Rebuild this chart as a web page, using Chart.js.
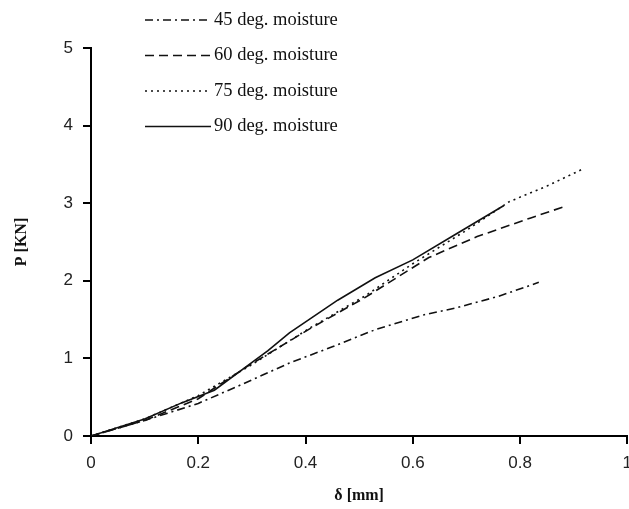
<!DOCTYPE html>
<html>
<head>
<meta charset="utf-8">
<script src="https://cdn.jsdelivr.net/npm/chart.js@4/dist/chart.umd.min.js"></script>
<style>
  html, body { margin: 0; padding: 0; background: #fff; overflow: hidden; }
  #wrap { position: relative; width: 641px; height: 509px; }
</style>
</head>
<body>
<div id="wrap"><canvas id="loadChart"></canvas></div>
<script>
// deflection [mm] and load [KN]
const labels = ['45 deg. moisture', '60 deg. moisture', '75 deg. moisture', '90 deg. moisture'];

const d45 = [0, 0.1, 0.2, 0.27, 0.37, 0.45, 0.53, 0.62, 0.68, 0.76, 0.835];
const p45 = [0, 0.2, 0.42, 0.63, 0.94, 1.15, 1.37, 1.56, 1.65, 1.8, 1.98];

const d60 = [0, 0.1, 0.2, 0.29, 0.41, 0.51, 0.63, 0.72, 0.82, 0.88];
const p60 = [0, 0.2, 0.48, 0.89, 1.39, 1.78, 2.3, 2.57, 2.81, 2.95];

const d75 = [0, 0.1, 0.2, 0.3, 0.41, 0.51, 0.6, 0.7, 0.78, 0.85, 0.92];
const p75 = [0, 0.22, 0.52, 0.92, 1.4, 1.8, 2.22, 2.65, 3.02, 3.22, 3.45];

const d90 = [0, 0.1, 0.17, 0.23, 0.33, 0.37, 0.46, 0.53, 0.6, 0.68, 0.77];
const p90 = [0, 0.22, 0.43, 0.59, 1.1, 1.33, 1.75, 2.04, 2.27, 2.6, 2.97];

const xTicks = [0, 0.2, 0.4, 0.6, 0.8, 1];
const yTicks = [0, 1, 2, 3, 4, 5];

const dashes = [[8, 4, 2, 4], [9, 5], [2, 4], []];

function toPoints(xs, ys) {
    return xs.map((x, i) => ({ x: x, y: ys[i] }));
}

const series = [[d45, p45], [d60, p60], [d75, p75], [d90, p90]];

// legend drawn by hand: stacked lines with labels, like the original
const sideLegend = {
    id: 'sideLegend',
    afterDatasetsDraw(chart) {
        const c = chart.ctx;
        c.save();
        chart.data.datasets.forEach((ds, i) => {
            const y = 20 + i * 35.5;
            c.beginPath();
            c.setLineDash(ds.borderDash);
            c.strokeStyle = '#111';
            c.lineWidth = 1.5;
            c.moveTo(145, y);
            c.lineTo(211, y);
            c.stroke();
            c.setLineDash([]);
            c.fillStyle = '#111';
            c.font = '18.5px "Liberation Serif", "Times New Roman", serif';
            c.textBaseline = 'middle';
            c.fillText(ds.label, 214, y);
        });
        c.restore();
    }
};

const ctx = document.getElementById('loadChart').getContext('2d');

const chart = new Chart(ctx, {
    type: 'scatter',
    data: {
        datasets: series.map((s, i) => ({
            label: labels[i],
            data: toPoints(s[0], s[1]),
            showLine: true,
            borderColor: '#111',
            borderWidth: 1.6,
            borderDash: dashes[i],
            pointRadius: 0,
            tension: 0,
            fill: false
        }))
    },
    options: {
        responsive: true,
        maintainAspectRatio: false,
        animation: false,
        layout: { padding: { top: 48, left: 0, right: 0, bottom: 0 } },
        plugins: {
            legend: { display: false },
            tooltip: { enabled: false }
        },
        scales: {
            x: {
                type: 'linear',
                min: 0,
                max: 1,
                afterBuildTicks: (s) => { s.ticks = xTicks.map(v => ({ value: v })); },
                ticks: {
                    color: '#222',
                    font: { family: 'Arial, "Liberation Sans", sans-serif', size: 17 },
                    padding: 9,
                    callback: (v) => String(v)
                },
                grid: { drawOnChartArea: false, drawTicks: true, tickLength: 8, color: '#000', lineWidth: 2 },
                border: { display: true, color: '#000', width: 2 },
                title: {
                    display: true,
                    text: 'δ [mm]',
                    color: '#111',
                    font: { family: '"Liberation Serif", "Times New Roman", serif', size: 16, weight: 'bold' },
                    padding: { top: 8, bottom: 4 }
                },
                afterFit: (s) => { s.height = 73; }
            },
            y: {
                min: 0,
                max: 5,
                afterBuildTicks: (s) => { s.ticks = yTicks.map(v => ({ value: v })); },
                ticks: {
                    color: '#222',
                    font: { family: 'Arial, "Liberation Sans", sans-serif', size: 17 },
                    padding: 10
                },
                grid: { drawOnChartArea: false, drawTicks: true, tickLength: 8, color: '#000', lineWidth: 2 },
                border: { display: true, color: '#000', width: 2 },
                title: {
                    display: true,
                    text: 'P [KN]',
                    color: '#111',
                    font: { family: '"Liberation Serif", "Times New Roman", serif', size: 16, weight: 'bold' },
                    padding: { top: 12, bottom: 0 }
                },
                afterFit: (s) => { s.width = 91; }
            }
        }
    },
    plugins: [sideLegend]
});
</script>
</body>
</html>
